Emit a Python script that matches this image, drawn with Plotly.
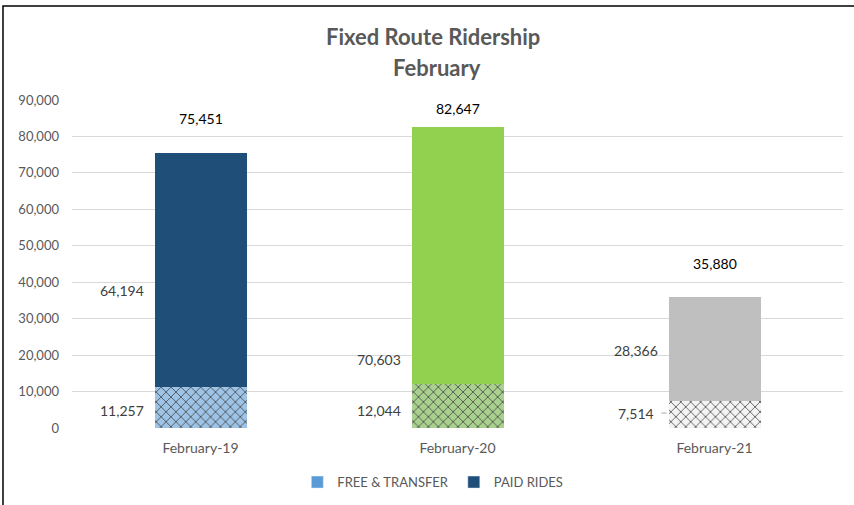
import plotly.graph_objects as go

categories = ["February-19", "February-20", "February-21"]
free_transfer = [11257, 12044, 7514]
paid_rides = [64194, 70603, 28366]
totals = [75451, 82647, 35880]
series_names = ["FREE & TRANSFER", "PAID RIDES"]
y_ticks = [0, 10000, 20000, 30000, 40000, 50000, 60000, 70000, 80000, 90000]

paid_colors = ["#1F4E79", "#92D050", "#BFBFBF"]
free_bg = ["#9DC3E6", "#A9D18E", "#F4F4F4"]
free_fg = ["#1F4E79", "#1F4E79", "#1F5A96"]

FONT = "Lato, Liberation Sans, sans-serif"

fig = go.Figure()
fig.add_trace(go.Bar(
    x=categories, y=free_transfer, name=series_names[0], showlegend=False,
    width=0.358,
    marker=dict(color=free_bg, line=dict(width=0),
                pattern=dict(shape="x", fgcolor=free_fg, bgcolor=free_bg, fgopacity=0.85,
                             size=7, solidity=0.25, fillmode="overlay")),
    hoverinfo="skip",
))
fig.add_trace(go.Bar(
    x=categories, y=paid_rides, name=series_names[1], showlegend=False,
    width=0.358, marker=dict(color=paid_colors, line=dict(width=0)),
    hoverinfo="skip",
))
# legend entries
fig.add_trace(go.Bar(x=[None], y=[None], name=series_names[0], marker_color="#5B9BD5"))
fig.add_trace(go.Bar(x=[None], y=[None], name=series_names[1], marker_color="#1F4E79"))

annotations = []
# totals above bars
total_shift = [24, 8, 23]
for c, t, s in zip(categories, totals, total_shift):
    annotations.append(dict(x=c, y=t, text=f"{t:,}", showarrow=False, yanchor="bottom",
                            yshift=s, font=dict(size=14, color="#000000", family=FONT)))
# segment labels to the left of bars
paid_label_y = [37600, 18900, 21400]
free_label_y = [4900, 4900, 4100]
for c, v, ly in zip(categories, paid_rides, paid_label_y):
    annotations.append(dict(x=c, y=ly, text=f"{v:,}", showarrow=False, xanchor="right",
                            xshift=-55, font=dict(size=14, color="#404040", family=FONT)))
for i, (c, v, ly) in enumerate(zip(categories, free_transfer, free_label_y)):
    shift = -59 if i == 2 else -55
    annotations.append(dict(x=c, y=ly, text=f"{v:,}", showarrow=False, xanchor="right",
                            xshift=shift, font=dict(size=14, color="#404040", family=FONT)))

# title
annotations.append(dict(xref="paper", yref="paper", x=0.468, y=(428 - 37) / 328,
                        yanchor="middle", showarrow=False,
                        text="<b>Fixed Route Ridership</b>",
                        font=dict(size=22, color="#595959", family=FONT)))
annotations.append(dict(xref="paper", yref="paper", x=0.474, y=(428 - 67) / 328,
                        yanchor="middle", showarrow=False,
                        text="<b>February</b>",
                        font=dict(size=22, color="#595959", family=FONT)))

shapes = [
    # leader line for smallest label
    dict(type="line", xref="x", yref="y", xsizemode="pixel", xanchor=categories[2],
         x0=-53, x1=-48, y0=free_label_y[2], y1=free_label_y[2],
         line=dict(color="#A6A6A6", width=1)),
    # chart border (top and left)
    dict(type="path", xref="paper", yref="paper",
         path="M -0.0895 -0.3 L -0.0895 1.2866 L 1.1 1.2866",
         line=dict(color="#000000", width=1.5)),
]

fig.update_layout(
    width=854, height=505,
    margin=dict(l=72, r=11, t=100, b=77, autoexpand=False),
    barmode="stack",
    plot_bgcolor="#FFFFFF", paper_bgcolor="#FFFFFF",
    font=dict(family=FONT, color="#595959", size=13),
    showlegend=True,
    legend=dict(orientation="h", x=0.468, xanchor="center", y=-0.165, yanchor="middle",
                font=dict(size=13, color="#595959", family=FONT),
                itemwidth=30, traceorder="normal"),
    annotations=annotations,
    shapes=shapes,
)
fig.update_yaxes(range=[0, 90000], tickvals=y_ticks, tickformat=",d",
                 showgrid=True, gridcolor="#D9D9D9", gridwidth=1,
                 zeroline=False, showline=False, ticks="", ticklabelstandoff=12,
                 automargin=False,
                 tickfont=dict(size=13, color="#595959"))
fig.update_xaxes(showgrid=False, showline=False, ticks="", ticklabelstandoff=10,
                 automargin=False,
                 tickfont=dict(size=14, color="#595959"))

fig.write_html("out.html", config={"displayModeBar": False},
               post_script="document.body.style.margin='0';")
